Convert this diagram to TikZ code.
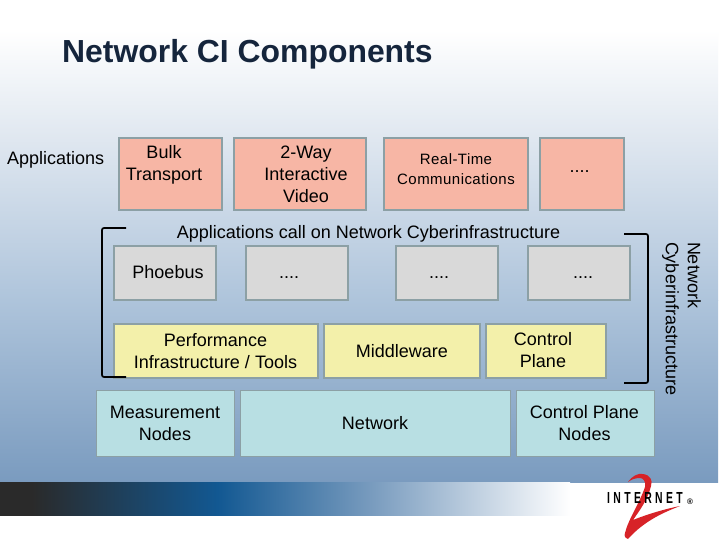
\documentclass[tikz,border=0pt]{standalone}
\usepackage{fontspec}
\setmainfont{Liberation Sans}
\newfontfamily\realfont[LetterSpace=3]{Liberation Sans}
\newfontfamily\logofont[LetterSpace=21,FakeStretch=0.65]{Liberation Sans}
\definecolor{titleColor}{RGB}{21,37,60}
\definecolor{upperColor}{RGB}{226,233,241}
\definecolor{midColor}{RGB}{174,196,219}
\definecolor{lowColor}{RGB}{122,155,191}
\definecolor{barDark}{RGB}{42,42,42}
\definecolor{barBlue}{RGB}{18,88,146}
\definecolor{barMid}{RGB}{120,155,190}
\definecolor{redFill}{RGB}{247,182,165}
\definecolor{greyFill}{RGB}{217,217,217}
\definecolor{yellowFill}{RGB}{243,240,170}
\definecolor{blueFill}{RGB}{184,223,227}
\definecolor{edgeColor}{RGB}{140,160,165}
\definecolor{logoRed}{RGB}{215,35,40}
\pgfdeclarehorizontalshading{barshade}{100bp}{color(0bp)=(barDark); color(27.8bp)=(barDark); color(44.1bp)=(barBlue); color(57.5bp)=(barMid); color(75bp)=(white); color(100bp)=(white)}
\tikzset{
  cibox/.style={draw=edgeColor,line width=1.6pt,inner sep=0pt,outer sep=0pt},
  redbox/.style={cibox,fill=redFill},
  greybox/.style={cibox,fill=greyFill},
  yellowbox/.style={cibox,fill=yellowFill},
  bluebox/.style={cibox,fill=blueFill,line width=0.8pt},
  citext/.style={align=center,inner sep=0pt,outer sep=0pt,font=\fontsize{18}{22}\selectfont,text=black},
  bracket/.style={draw=black,line width=1.7pt,rounded corners=2pt}
}
\newcommand{\cibox}[6]{\node[#1,minimum width=#4pt,minimum height=#5pt] (#2) at (#3) {#6};}
\begin{document}
\begin{tikzpicture}[x=1pt,y=-1pt]
\path[use as bounding box,fill=white] (0,0) rectangle (720,540);
% background
\shade[top color=white,bottom color=upperColor] (0,30) rectangle (718,130);
\shade[top color=upperColor,bottom color=midColor] (0,130) rectangle (718,300);
\shade[top color=midColor,bottom color=lowColor] (0,300) rectangle (718,482);
\shade[shading=barshade] (0,482) rectangle (570,515);

\node[anchor=base west,inner sep=0pt,font=\fontsize{31.9}{36}\selectfont\bfseries,text=titleColor] (title) at (62,63) {Network CI Components};
\node[citext,anchor=base west] (apps) at (7,165) {Applications};

% applications
\cibox{redbox}{bulk}{170.5,174}{103}{72}{}
\cibox{redbox}{way}{300,174}{132}{72}{}
\cibox{redbox}{realtime}{456,174}{144}{72}{}
\cibox{redbox}{appmore}{582,174}{84}{72}{}
\node[citext] (bulktext) at (164,165) {Bulk\\Transport};
\node[citext] (waytext) at (306,174.5) {2-Way\\Interactive\\Video};
\node[citext,font=\fontsize{15}{19.5}\selectfont\realfont] (realtext) at (456,169) {Real-Time\\Communications};
\node[citext] (appmoretext) at (579.5,172) {....};

\node[citext,anchor=base] (calls) at (368.5,238) {Applications call on Network Cyberinfrastructure};

% tools
\cibox{greybox}{phoebus}{165,273}{102}{54}{}
\cibox{greybox}{toola}{297,273}{102}{54}{}
\cibox{greybox}{toolb}{447,273}{102}{54}{}
\cibox{greybox}{toolc}{579,273}{102}{54}{}
\node[citext] (phoebustext) at (168,272.5) {Phoebus};
\node[citext] (toolatext) at (289,278) {....};
\node[citext] (toolbtext) at (439,278) {....};
\node[citext] (toolctext) at (583,278) {....};

% middle layer
\cibox{yellowbox}{perf}{216,351}{204}{54}{}
\cibox{yellowbox}{middle}{402,351}{156}{54}{}
\cibox{yellowbox}{control}{546,351}{120}{54}{}
\node[citext] (perftext) at (215.5,351.5) {Performance\\Infrastructure / Tools};
\node[citext] (middletext) at (402,351.5) {Middleware};
\node[citext] (controltext) at (543,350) {Control\\Plane};

% bottom layer
\cibox{bluebox}{measure}{165,423}{138}{66}{}
\cibox{bluebox}{network}{375,423}{270}{66}{}
\cibox{bluebox}{cpnodes}{585,423}{138}{66}{}
\node[citext] (measuretext) at (165,423) {Measurement\\Nodes};
\node[citext] (networktext) at (375,423.5) {Network};
\node[citext] (cpnodestext) at (584.5,423) {Control Plane\\Nodes};

% brackets
\path[bracket] (126,228) -- (102,228) -- (102,377) -- (126,377);
\path[bracket] (624,234) -- (648,234) -- (648,383) -- (624,383);
\node[citext,rotate=-90,align=left,anchor=north west] (cyber) at (701,242) {Network\\Cyberinfrastructure};

% logo
\path[fill=logoRed] (628,482) .. controls (632,476) and (638,473) .. (643,474)
  .. controls (650,475) and (653,480) .. (651,486)
  .. controls (648,499) and (640,510) .. (633,520)
  .. controls (648,514) and (665,509) .. (680,506)
  .. controls (665,512) and (645,520) .. (628,539)
  .. controls (625,538) and (624,536) .. (625,533)
  .. controls (628,520) and (640,502) .. (645,487)
  .. controls (646,481) and (643,478) .. (640,478)
  .. controls (636,478) and (632,479) .. (628,482) -- cycle;
\node[anchor=base west,inner sep=0pt,font=\fontsize{16}{16}\selectfont\logofont\bfseries,text=black] (logo) at (607,503.5) {INTERNET};
\node[anchor=base west,inner sep=0pt,font=\fontsize{8}{8}\selectfont\bfseries,text=black] (reg) at (687,504) {®};
\end{tikzpicture}
\end{document}
